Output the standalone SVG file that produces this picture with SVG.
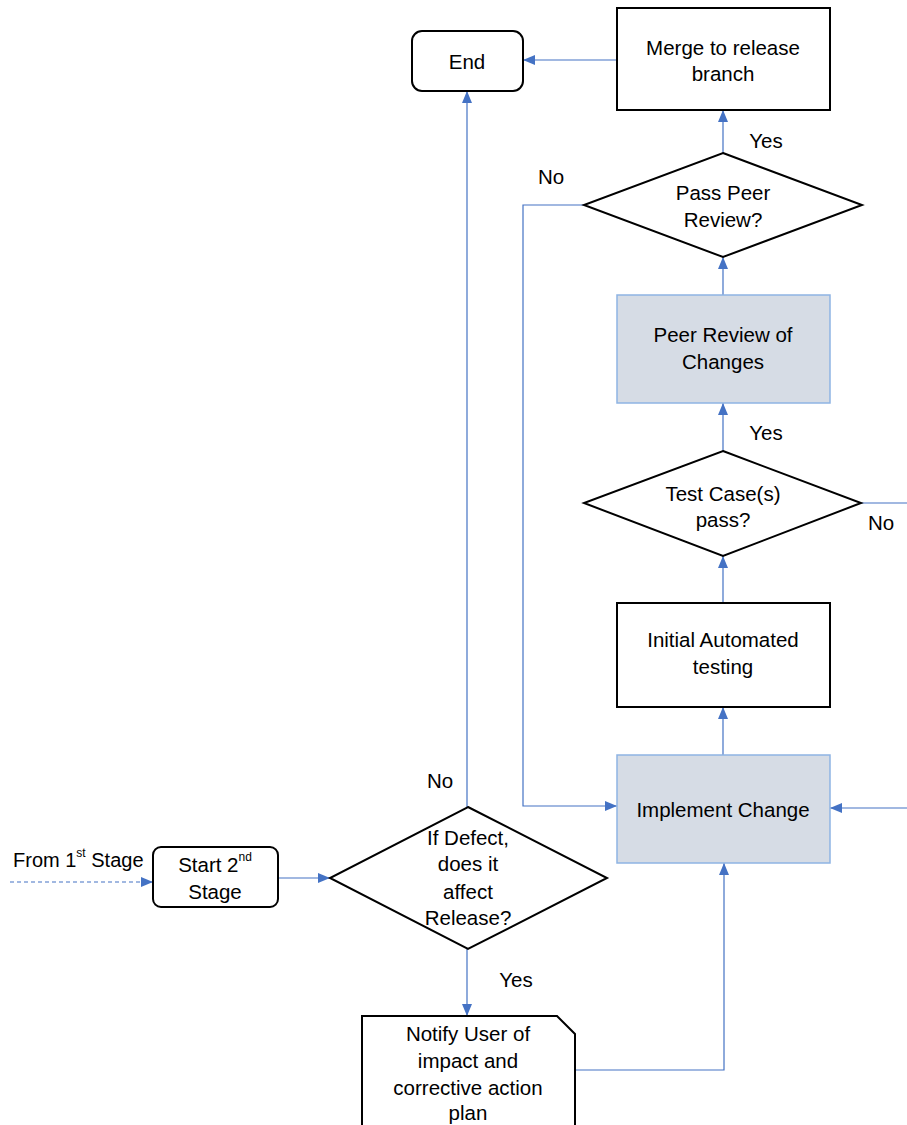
<svg xmlns="http://www.w3.org/2000/svg" width="907" height="1125" viewBox="0 0 907 1125">
  <style>
    .box { fill: #ffffff; stroke: #000000; stroke-width: 2; }
    .shade { fill: #d6dce5; stroke: #8eb4e3; stroke-width: 1.5; }
    .lbl { font-family: "Liberation Sans", Arial, sans-serif; font-size: 20.5px; fill: #000000; text-anchor: middle; dominant-baseline: central; }
    .note { font-family: "Liberation Sans", Arial, sans-serif; font-size: 20px; fill: #000000; dominant-baseline: central; }
    .sup { font-size: 12px; }
    .conn { fill: none; stroke: #4472c4; stroke-width: 1.2; }
    .dash { stroke-dasharray: 4 3; }
  </style>
  <defs>
    <marker id="arrow" viewBox="0 0 12 10" refX="12" refY="5" markerWidth="12" markerHeight="10" markerUnits="userSpaceOnUse" orient="auto">
      <path d="M0,0 L12,5 L0,10 z" fill="#4472c4"/>
    </marker>
  </defs>

  <!-- connectors -->
  <g id="connectors">
    <path class="conn dash" d="M10,882 H153" marker-end="url(#arrow)"/>
    <path class="conn" d="M278,878 H330" marker-end="url(#arrow)"/>
    <path class="conn" d="M467,807 V91" marker-end="url(#arrow)"/>
    <path class="conn" d="M617,60 H523" marker-end="url(#arrow)"/>
    <path class="conn" d="M723,153 V110" marker-end="url(#arrow)"/>
    <path class="conn" d="M584,205 H523 V806 H617" marker-end="url(#arrow)"/>
    <path class="conn" d="M723,295 V257" marker-end="url(#arrow)"/>
    <path class="conn" d="M723,451 V403" marker-end="url(#arrow)"/>
    <path class="conn" d="M861,503 H907"/>
    <path class="conn" d="M723,603 V556" marker-end="url(#arrow)"/>
    <path class="conn" d="M723,755 V707" marker-end="url(#arrow)"/>
    <path class="conn" d="M907,808 H830" marker-end="url(#arrow)"/>
    <path class="conn" d="M467,949 V1016" marker-end="url(#arrow)"/>
    <path class="conn" d="M575,1070 H724 V863" marker-end="url(#arrow)"/>
  </g>

  <!-- connector labels -->
  <g id="labels">
    <text class="note" x="13" y="860">From 1<tspan class="sup" baseline-shift="super">st</tspan> Stage</text>
    <text class="lbl" x="440" y="780">No</text>
    <text class="lbl" x="516" y="979">Yes</text>
    <text class="lbl" x="766" y="140">Yes</text>
    <text class="lbl" x="551" y="176">No</text>
    <text class="lbl" x="766" y="432">Yes</text>
    <text class="lbl" x="881" y="522">No</text>
  </g>

  <g id="end">
    <rect class="box" x="412" y="31" width="111" height="60" rx="10"/>
    <text class="lbl" x="467" y="61">End</text>
  </g>

  <g id="merge">
    <rect class="box" x="617" y="8" width="213" height="102"/>
    <text class="lbl" x="723" y="47">Merge to release</text>
    <text class="lbl" x="723" y="73">branch</text>
  </g>

  <g id="pass-peer-review">
    <polygon class="box" points="723,153 862,205 723,257 584,205"/>
    <text class="lbl" x="723" y="192">Pass Peer</text>
    <text class="lbl" x="723" y="219">Review?</text>
  </g>

  <g id="peer-review">
    <rect class="shade" x="617" y="295" width="213" height="108"/>
    <text class="lbl" x="723" y="334">Peer Review of</text>
    <text class="lbl" x="723" y="361">Changes</text>
  </g>

  <g id="test-cases">
    <polygon class="box" points="723,451 861,503 723,556 584,503"/>
    <text class="lbl" x="723" y="493">Test Case(s)</text>
    <text class="lbl" x="723" y="519">pass?</text>
  </g>

  <g id="initial-testing">
    <rect class="box" x="617" y="603" width="213" height="104"/>
    <text class="lbl" x="723" y="639">Initial Automated</text>
    <text class="lbl" x="723" y="666">testing</text>
  </g>

  <g id="implement-change">
    <rect class="shade" x="617" y="755" width="213" height="108"/>
    <text class="lbl" x="723" y="809">Implement Change</text>
  </g>

  <g id="start">
    <rect class="box" x="153" y="847" width="125" height="60" rx="8"/>
    <text class="lbl" x="215" y="864">Start 2<tspan class="sup" baseline-shift="super">nd</tspan></text>
    <text class="lbl" x="215" y="891">Stage</text>
  </g>

  <g id="defect-check">
    <polygon class="box" points="468,807 607,878 468,949 330,878"/>
    <text class="lbl" x="468" y="837">If Defect,</text>
    <text class="lbl" x="468" y="863">does it</text>
    <text class="lbl" x="468" y="891">affect</text>
    <text class="lbl" x="468" y="917">Release?</text>
  </g>

  <g id="notify-user">
    <path class="box" d="M362,1135 V1016 H557 L575,1034 V1135"/>
    <text class="lbl" x="468" y="1033">Notify User of</text>
    <text class="lbl" x="468" y="1060">impact and</text>
    <text class="lbl" x="468" y="1087">corrective action</text>
    <text class="lbl" x="468" y="1112">plan</text>
  </g>
</svg>
